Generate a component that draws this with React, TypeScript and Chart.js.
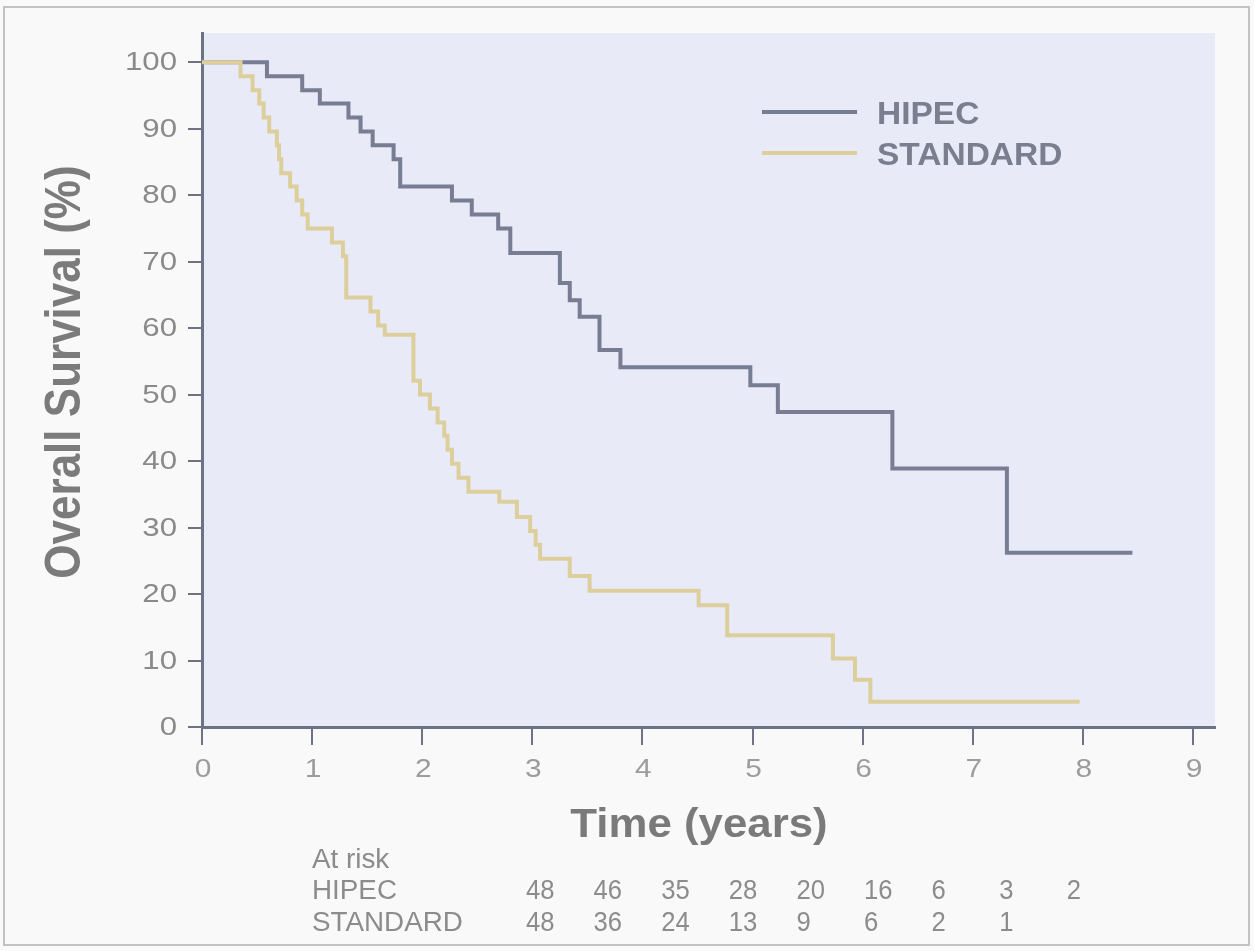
import { useEffect, useRef } from "react";
import { Chart, registerables } from "chart.js";

Chart.register(...registerables);

// ---- data ----
const seriesNames = ["HIPEC", "STANDARD"];

const hipecTimes = [0, 0.59, 0.91, 1.07, 1.33, 1.44, 1.55, 1.74, 1.8, 2.27, 2.45, 2.69, 2.8, 3.25, 3.34, 3.43, 3.61, 3.8, 4.98, 5.23, 6.27, 7.31, 8.45];
const hipecSurvival = [100, 97.9, 95.8, 93.8, 91.7, 89.6, 87.5, 85.4, 81.3, 79.2, 77.1, 75.0, 71.3, 66.8, 64.2, 61.7, 56.7, 54.1, 51.4, 47.4, 38.9, 26.2, 26.2];

const standardTimes = [0, 0.35, 0.46, 0.52, 0.56, 0.61, 0.68, 0.7, 0.72, 0.8, 0.86, 0.91, 0.96, 1.18, 1.28, 1.31, 1.53, 1.6, 1.66, 1.92, 1.98, 2.07, 2.14, 2.2, 2.23, 2.27, 2.33, 2.42, 2.7, 2.86, 2.98, 3.03, 3.07, 3.34, 3.52, 4.51, 4.77, 5.73, 5.93, 6.07, 7.97];
const standardSurvival = [100, 97.9, 95.8, 93.8, 91.7, 89.6, 87.5, 85.4, 83.3, 81.3, 79.2, 77.1, 75.0, 72.9, 70.8, 64.6, 62.5, 60.4, 59.0, 52.1, 50.0, 47.9, 45.8, 43.8, 41.7, 39.6, 37.5, 35.4, 33.9, 31.6, 29.5, 27.4, 25.3, 22.7, 20.5, 18.3, 13.8, 10.3, 7.1, 3.8, 3.8];

const xTickValues = [0, 1, 2, 3, 4, 5, 6, 7, 8, 9];
const yTickValues = [0, 10, 20, 30, 40, 50, 60, 70, 80, 90, 100];

const atRiskHipec = [48, 46, 35, 28, 20, 16, 6, 3, 2];
const atRiskStandard = [48, 36, 24, 13, 9, 6, 2, 1];

const xTitle = "Time (years)";
const yTitle = "Overall Survival (%)";
const atRiskTitle = "At risk";

// ---- styles ----
const HIPEC_COLOR = "#787d93";
const STANDARD_COLOR = "#dccf9c";
const AXIS_COLOR = "#6e7285";
const PLOT_BG = "#e8eaf8";
const PAGE_BG = "#f9f9f9";
const FONT = '"Liberation Sans", Arial, Helvetica, sans-serif';

type TextOpts = {
  font: string;
  color: string;
  align?: CanvasTextAlign;
  baseline?: CanvasTextBaseline;
  sx?: number;
  rotate?: number;
};

function drawText(ctx: CanvasRenderingContext2D, text: string, x: number, y: number, o: TextOpts) {
  ctx.save();
  ctx.translate(x, y);
  if (o.rotate) ctx.rotate(o.rotate);
  ctx.scale(o.sx ?? 1, 1);
  ctx.font = o.font;
  ctx.fillStyle = o.color;
  ctx.textAlign = o.align ?? "left";
  ctx.textBaseline = o.baseline ?? "alphabetic";
  ctx.fillText(text, 0, 0);
  ctx.restore();
}

const decorPlugin = {
  id: "decor",
  beforeDraw(chart: any) {
    const ctx: CanvasRenderingContext2D = chart.ctx;
    const { left, right, top, bottom } = chart.chartArea;
    ctx.save();
    ctx.fillStyle = PAGE_BG;
    ctx.fillRect(0, 0, chart.width, chart.height);
    ctx.strokeStyle = "#c2c2c2";
    ctx.lineWidth = 2;
    ctx.strokeRect(4, 7, chart.width - 9, chart.height - 13);
    ctx.fillStyle = PLOT_BG;
    ctx.fillRect(left, top, right - left, bottom - top);
    ctx.restore();
  },
  afterDraw(chart: any) {
    const ctx: CanvasRenderingContext2D = chart.ctx;
    const xs = chart.scales.x;
    const ys = chart.scales.y;
    const bottom = chart.chartArea.bottom;

    // y tick labels
    yTickValues.forEach((v) => {
      drawText(ctx, String(v), 177, ys.getPixelForValue(v) + 1, {
        font: `26px ${FONT}`,
        color: "#8a8a8a",
        align: "right",
        baseline: "middle",
        sx: 1.2,
      });
    });
    // x tick labels
    xTickValues.forEach((v) => {
      drawText(ctx, String(v), xs.getPixelForValue(v) + 1, bottom + 43, {
        font: `26px ${FONT}`,
        color: "#9c9c9c",
        align: "center",
        baseline: "middle",
        sx: 1.15,
      });
    });

    // axis titles
    drawText(ctx, yTitle, 80, 372, {
      font: `bold 50px ${FONT}`,
      color: "#7b7b7b",
      align: "center",
      rotate: -Math.PI / 2,
      sx: 0.88,
    });
    drawText(ctx, xTitle, 699, 837, {
      font: `bold 40px ${FONT}`,
      color: "#7a7a7a",
      align: "center",
      sx: 1.095,
    });

    // legend
    const legendColors = [HIPEC_COLOR, STANDARD_COLOR];
    const legendY = [112, 153];
    seriesNames.forEach((name, i) => {
      ctx.save();
      ctx.strokeStyle = legendColors[i];
      ctx.lineWidth = 4;
      ctx.beginPath();
      ctx.moveTo(762, legendY[i]);
      ctx.lineTo(857, legendY[i]);
      ctx.stroke();
      ctx.restore();
      drawText(ctx, name, 877, legendY[i] + 12, {
        font: `bold 31px ${FONT}`,
        color: "#7a7e8e",
        sx: 1.08,
      });
    });

    // at-risk table
    const rowFont = `27px ${FONT}`;
    const tColor = "#8c8c8c";
    const colStart = 526;
    const colStep = 67.6;
    drawText(ctx, atRiskTitle, 312, 868, { font: rowFont, color: tColor, sx: 1.03 });
    const rows = [atRiskHipec, atRiskStandard];
    const rowY = [899, 931];
    seriesNames.forEach((name, r) => {
      drawText(ctx, name, 312, rowY[r], { font: rowFont, color: tColor, sx: 1.03 });
      rows[r].forEach((n, c) => {
        drawText(ctx, String(n), colStart + c * colStep, rowY[r], { font: rowFont, color: tColor, sx: 0.95 });
      });
    });
  },
};

export default function App() {
  const canvasRef = useRef<HTMLCanvasElement | null>(null);

  useEffect(() => {
    document.body.style.margin = "0";
    const canvas = canvasRef.current;
    if (!canvas) return;

    const toPoints = (t: number[], s: number[]) => t.map((x, i) => ({ x, y: s[i] }));

    const chart = new Chart(canvas, {
      type: "line",
      data: {
        datasets: [
          {
            label: seriesNames[0],
            data: toPoints(hipecTimes, hipecSurvival),
            borderColor: HIPEC_COLOR,
            borderWidth: 4,
            stepped: true,
            pointRadius: 0,
            fill: false,
            order: 1,
          },
          {
            label: seriesNames[1],
            data: toPoints(standardTimes, standardSurvival),
            borderColor: STANDARD_COLOR,
            borderWidth: 4,
            stepped: true,
            pointRadius: 0,
            fill: false,
            order: 0,
          },
        ],
      },
      options: {
        responsive: false,
        animation: false,
        events: [],
        layout: { padding: { left: 0, right: 39, top: 33, bottom: 0 } },
        plugins: {
          legend: { display: false },
          tooltip: { enabled: false },
          title: { display: false },
        },
        scales: {
          x: {
            type: "linear",
            min: 0,
            max: 9.2,
            ticks: { display: false, stepSize: 1, includeBounds: false },
            grid: {
              display: true,
              drawOnChartArea: false,
              drawTicks: true,
              tickLength: 18,
              color: AXIS_COLOR,
              lineWidth: 2,
            },
            border: { display: true, color: AXIS_COLOR, width: 3 },
            afterFit: (s: any) => {
              s.height = 224;
            },
          },
          y: {
            type: "linear",
            min: 0,
            max: 104.4,
            ticks: { display: false, stepSize: 10, includeBounds: false },
            grid: {
              display: true,
              drawOnChartArea: false,
              drawTicks: true,
              tickLength: 14,
              color: AXIS_COLOR,
              lineWidth: 2,
            },
            border: { display: true, color: AXIS_COLOR, width: 3 },
            afterFit: (s: any) => {
              s.width = 202;
            },
          },
        },
      },
      plugins: [decorPlugin],
    });

    return () => chart.destroy();
  }, []);

  return (
    <canvas
      ref={canvasRef}
      width={1254}
      height={951}
      style={{ display: "block", width: "1254px", height: "951px" }}
    />
  );
}
